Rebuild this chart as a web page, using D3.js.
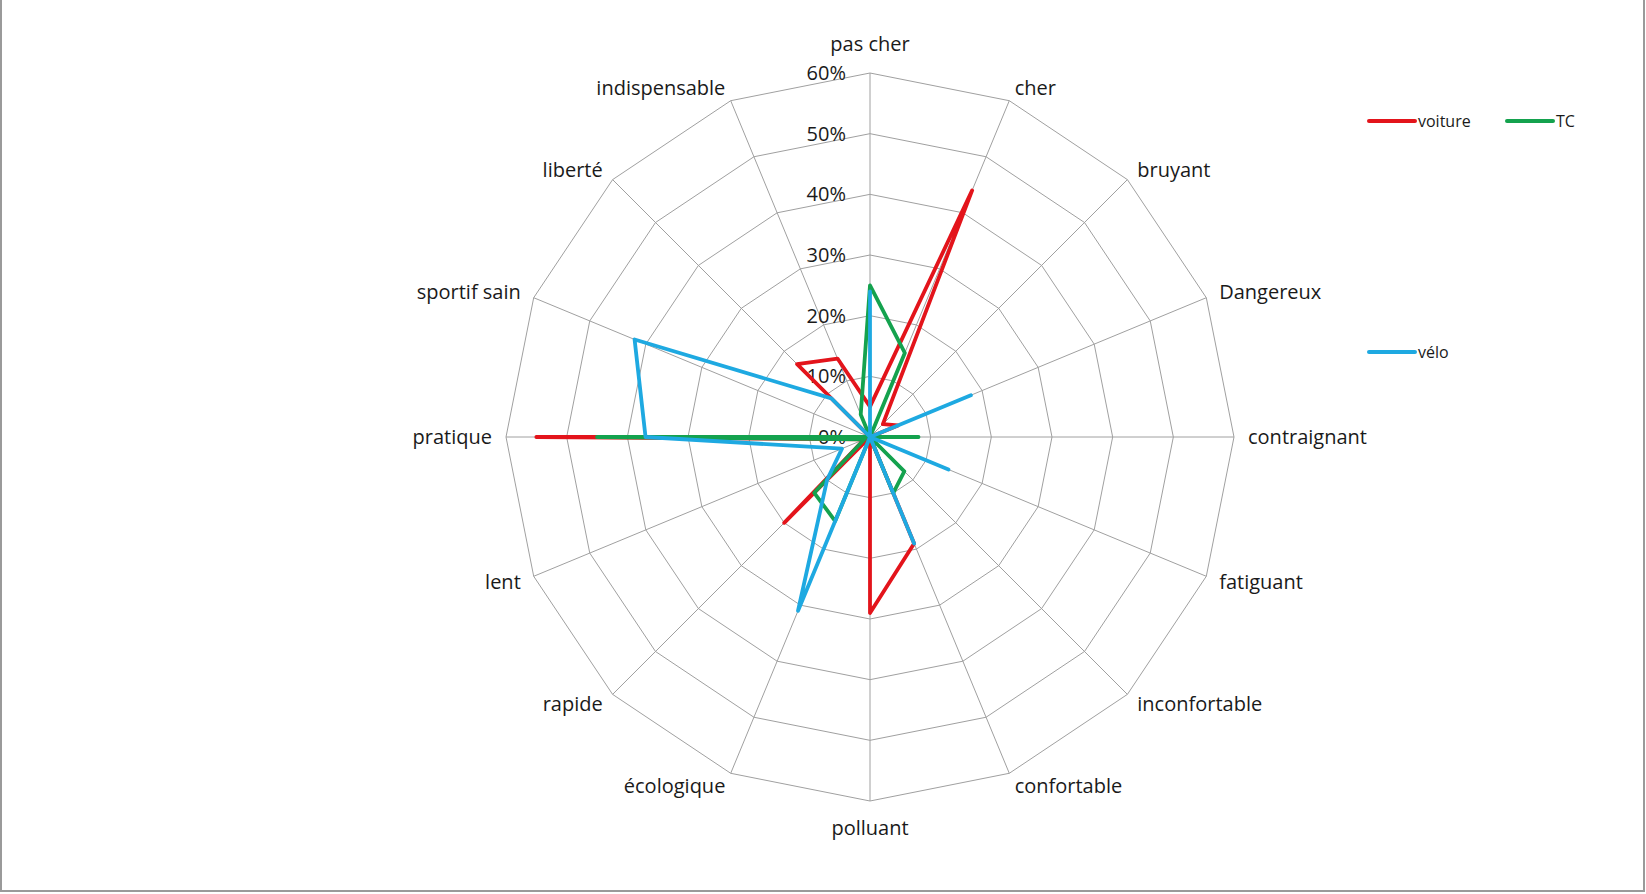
<!DOCTYPE html>
<html>
<head>
<meta charset="utf-8">
<script src="https://cdn.jsdelivr.net/npm/d3@7"></script>
<style>
  body { margin: 0; background: #fff; }
  svg { display: block; }
  text { font-family: "Open Sans", sans-serif; fill: #1a1a1a; }
</style>
</head>
<body>
<div id="chart"></div>
<script>
// categories, clockwise from the top
var categories = ["pas cher", "cher", "bruyant", "Dangereux", "contraignant", "fatiguant",
  "inconfortable", "confortable", "polluant", "écologique", "rapide", "lent",
  "pratique", "sportif sain", "liberté", "indispensable"];

// series values (share of answers)
var voiture = [0.05, 0.44, 0.03, 0.05, 0, 0, 0, 0.19, 0.29, 0, 0.20, 0.01, 0.55, 0, 0.17, 0.14];
var tc      = [0.25, 0.15, 0, 0, 0.08, 0, 0.08, 0.10, 0, 0.15, 0.13, 0.01, 0.45, 0, 0, 0.04];
var velo    = [0.24, 0, 0, 0.18, 0, 0.14, 0, 0.19, 0, 0.31, 0.10, 0.05, 0.37, 0.42, 0.09, 0];

var ticks = [0, 0.1, 0.2, 0.3, 0.4, 0.5, 0.6];
var seriesNames = ["voiture", "TC", "vélo"];

var chart_width = 1646;
var chart_height = 894;
var cx = 870, cy = 437;
var radius = 364;

var colors = { "voiture": "#e3141b", "TC": "#14a24e", "vélo": "#1ea9e1" };

var svg = d3.select('#chart')
  .append('svg')
  .attr('width', chart_width)
  .attr('height', chart_height);

// frame (left, right, bottom edges visible)
svg.append('path')
  .attr('d', 'M1,0 V891 H1644 V0')
  .attr('fill', 'none')
  .attr('stroke', '#9a9a9a')
  .attr('stroke-width', 2);

var g = svg.append('g').attr('transform', 'translate(' + cx + ',' + cy + ')');

var r_scale = d3.scaleLinear().domain([0, 0.6]).range([0, radius]);
var a_scale = d3.scaleLinear().domain([0, categories.length]).range([0, 2 * Math.PI]);

var idx = d3.range(categories.length);

// rings
var ring = d3.lineRadial()
  .angle(function(d) { return a_scale(d.i); })
  .radius(function(d) { return r_scale(d.v); })
  .curve(d3.curveLinearClosed);

g.selectAll('.ring')
  .data(ticks.slice(1))
  .enter()
  .append('path')
  .attr('class', 'ring')
  .attr('d', function(t) { return ring(idx.map(function(i) { return { i: i, v: t }; })); })
  .attr('fill', 'none')
  .attr('stroke', '#a0a0a0')
  .attr('stroke-width', 1);

// spokes
g.selectAll('.spoke')
  .data(idx)
  .enter()
  .append('line')
  .attr('x2', function(i) { return Math.sin(a_scale(i)) * radius; })
  .attr('y2', function(i) { return -Math.cos(a_scale(i)) * radius; })
  .attr('stroke', '#a0a0a0')
  .attr('stroke-width', 1);

// category labels
var lab_r = radius + 14;
g.selectAll('.cat')
  .data(idx)
  .enter()
  .append('text')
  .attr('class', 'cat')
  .attr('x', function(i) { return Math.sin(a_scale(i)) * lab_r; })
  .attr('y', function(i) {
    var c = Math.cos(a_scale(i));
    var y = -c * lab_r;
    if (c > 0.99) return y - 8;   // top label sits above
    if (c < -0.99) return y + 20; // bottom label sits below
    return y + 7;
  })
  .attr('text-anchor', function(i) {
    var s = Math.sin(a_scale(i));
    return s > 0.01 ? 'start' : (s < -0.01 ? 'end' : 'middle');
  })
  .attr('font-size', 20)
  .text(function(i) { return categories[i]; });

// tick labels along the top spoke
g.selectAll('.tick')
  .data(ticks)
  .enter()
  .append('text')
  .attr('x', -24)
  .attr('y', function(t) { return -r_scale(t) + 7; })
  .attr('text-anchor', 'end')
  .attr('font-size', 20)
  .text(d3.format('.0%'));

// series
var line = d3.lineRadial()
  .angle(function(d, i) { return a_scale(i); })
  .radius(function(d) { return r_scale(d); })
  .curve(d3.curveLinearClosed);

var seriesData = [voiture, tc, velo];

g.selectAll('.series')
  .data(seriesData)
  .enter()
  .append('path')
  .attr('class', 'series')
  .attr('d', function(d) { return line(d); })
  .attr('fill', 'none')
  .attr('stroke', function(d, i) { return colors[seriesNames[i]]; })
  .attr('stroke-width', 3.8)
  .attr('stroke-linejoin', 'round');

// legend
var legend_x = [1369, 1507, 1369];
var legend_y = [121, 121, 352];
var leg = svg.selectAll('.leg')
  .data(seriesNames)
  .enter()
  .append('g')
  .attr('transform', function(d, i) { return 'translate(' + legend_x[i] + ',' + legend_y[i] + ')'; });

leg.append('line')
  .attr('x1', 0).attr('x2', 46)
  .attr('stroke', function(d) { return colors[d]; })
  .attr('stroke-width', 4)
  .attr('stroke-linecap', 'round');

leg.append('text')
  .attr('x', 49)
  .attr('y', 6)
  .attr('font-size', 16)
  .text(function(d) { return d; });
</script>
</body>
</html>
